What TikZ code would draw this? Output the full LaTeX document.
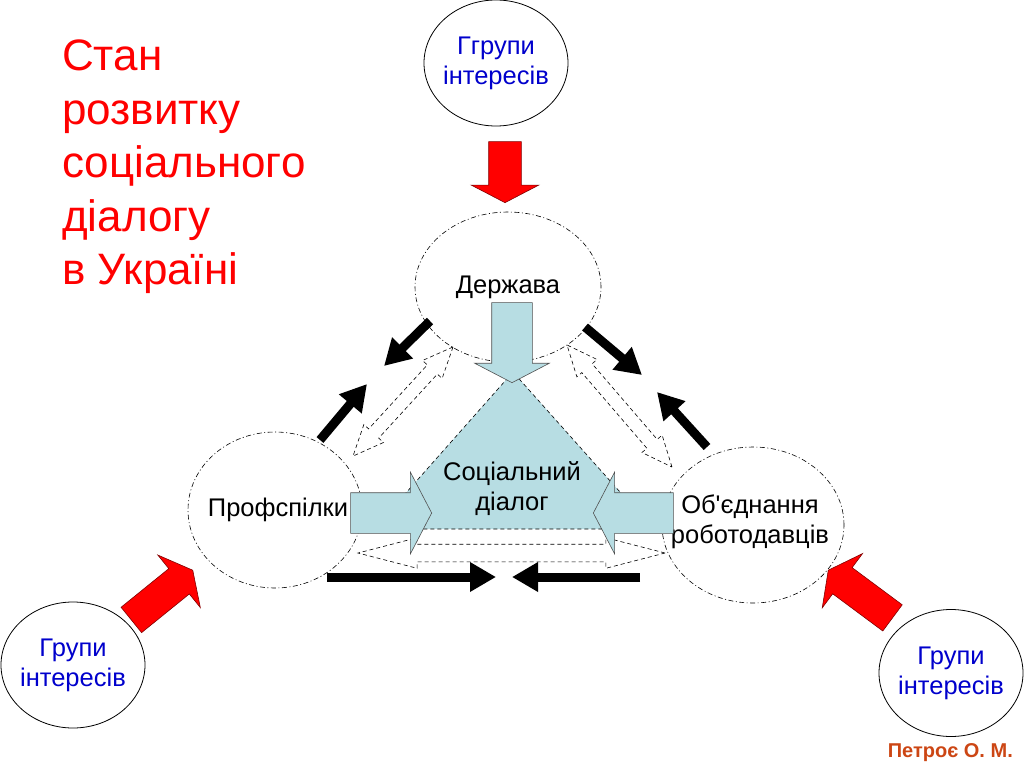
\documentclass[tikz,border=0pt]{standalone}
\usepackage{fontspec}
\setmainfont{Liberation Sans}[Ligatures=TeXOff]
\usetikzlibrary{shapes.geometric,shapes.arrows,arrows.meta}
\definecolor{lobbyblue}{RGB}{0,0,204}
\definecolor{dialogblue}{RGB}{183,221,227}
\definecolor{feededge}{RGB}{80,80,80}
\definecolor{pushedge}{RGB}{128,0,0}
\definecolor{authorred}{RGB}{204,70,20}
\tikzset{
  party/.style={ellipse, draw, line width=0.6pt, dash pattern=on 5pt off 2.5pt on 1pt off 2.5pt},
  lobby/.style={ellipse, draw, line width=0.8pt},
  push/.style={single arrow, draw=pushedge, fill=red, line width=0.6pt, inner xsep=0pt, inner ysep=16pt, single arrow head extend=17.5pt, single arrow tip angle=125, anchor=tip},
  feed/.style={single arrow, draw=feededge, fill=dialogblue, line width=0.6pt, inner xsep=0pt, inner ysep=20pt, single arrow head extend=17pt, single arrow tip angle=125, anchor=tip},
  tie/.style={double arrow, draw, line width=0.6pt, dash pattern=on 4pt off 3pt, inner xsep=0pt},
  link/.style={line width=9pt, -{Triangle[length=26pt,width=28pt]}},
}
\begin{document}
\begin{tikzpicture}[x=1pt, y=-1pt, font=\fontsize{25.5}{30}\selectfont]
\useasboundingbox (0,0) rectangle (1024,768);
% hollow dashed ties along the triangle
\node (tieL) [tie, minimum height=148pt, minimum width=26pt, inner ysep=6.5pt, double arrow head extend=6.5pt, double arrow tip angle=47, rotate=47.5] at (403,401.5) {};
\node (tieR) [tie, minimum height=161pt, minimum width=26pt, inner ysep=6.5pt, double arrow head extend=6.5pt, double arrow tip angle=47, rotate=-49.3] at (619.5,406) {};
\node (tieB) [tie, minimum height=307pt, minimum width=30pt, inner ysep=8.5pt, double arrow head extend=6.5pt, double arrow tip angle=29] at (511.5,553) {};
% the three parties
\node (state) [party, minimum width=186pt, minimum height=150pt, label={center:Держава}] at (508,287) {};
\node (unions) [party, minimum width=174pt, minimum height=156pt, label={[xshift=3pt]center:Профспілки}] at (275,510) {};
\node (employers) [party, minimum width=182pt, minimum height=156pt, label={[align=center, xshift=-3pt, yshift=3pt]center:Об'єднання\\роботодавців}] at (753,525) {};
% black arrows between the parties
\coordinate (stateL) at (430,321);
\coordinate (stateLtip) at (384,366);
\coordinate (unionsU) at (320,440);
\coordinate (unionsUtip) at (367,384);
\coordinate (stateR) at (585,327);
\coordinate (stateRtip) at (642,375);
\coordinate (employersU) at (707,447);
\coordinate (employersUtip) at (657,392);
\coordinate (unionsB) at (327,577);
\coordinate (unionsBtip) at (496,577);
\coordinate (employersB) at (640,577);
\coordinate (employersBtip) at (512,577);
\draw[link] (stateL) -- (stateLtip);
\draw[link] (unionsU) -- (unionsUtip);
\draw[link] (stateR) -- (stateRtip);
\draw[link] (employersU) -- (employersUtip);
\draw[link] (unionsB) -- (unionsBtip);
\draw[link] (employersB) -- (employersBtip);
% social dialogue triangle
\filldraw[fill=dialogblue, draw=black, line width=0.6pt, dash pattern=on 4pt off 3pt] (513,372) -- (374,529) -- (653,529) -- cycle;
\node (dialog) [align=center] at (512,489) {Соціальний\\діалог};
\node (feedT) [feed, minimum height=80pt, rotate=-90] at (512,383) {};
\node (feedL) [feed, minimum height=81pt, single arrow head extend=20.5pt] at (432,513) {};
\node (feedR) [feed, minimum height=80pt, single arrow head extend=20.5pt, rotate=180] at (593,513) {};
% interest groups
\node (lobbyT) [lobby, minimum width=144pt, minimum height=126pt, label={[align=center, text=lobbyblue]center:Ггрупи\\інтересів}] at (496,63) {};
\node (lobbyL) [lobby, minimum width=144pt, minimum height=126pt, label={[align=center, text=lobbyblue]center:Групи\\інтересів}] at (73,665) {};
\node (lobbyR) [lobby, minimum width=144pt, minimum height=127pt, label={[align=center, text=lobbyblue]center:Групи\\інтересів}] at (951,673) {};
\node (pushT) [push, minimum height=61pt, rotate=-90] at (505,203) {};
\node (pushL) [push, minimum height=79pt, rotate=39] at (193,570) {};
\node (pushR) [push, minimum height=80pt, rotate=143.4] at (828,570) {};
% title and author
\node (title) [anchor=north west, align=left, inner sep=0pt, text=red, font=\fontsize{44}{53.5}\selectfont] at (62,40) {Стан\\розвитку\\соціального\\діалогу\\в Україні};
\node (author) [anchor=base east, inner sep=0pt, text=authorred, font=\fontsize{20}{24}\selectfont\bfseries] at (1013,757) {Петроє О. М.};
\end{tikzpicture}
\end{document}
